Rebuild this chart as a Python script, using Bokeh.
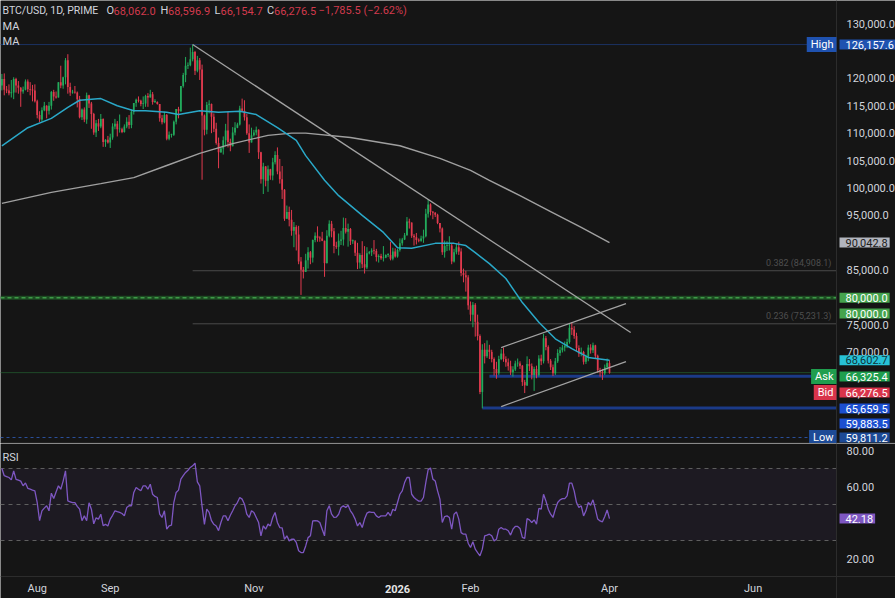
import numpy as np
import pandas as pd
from bokeh.plotting import figure
from bokeh.layouts import column
from bokeh.models import ColumnDataSource, Range1d, Label, Span, BoxAnnotation
from bokeh.embed import file_html
from bokeh.resources import INLINE

# ---------------- data (prices in thousands of USD, daily candles) ----------------
start_date = "2025-07-17"
first_open_k = 118.7

close_jul = [119.9, 117.9, 117.8, 117.3, 117.4, 119.9, 118.7, 118.3, 117.6, 117.9, 119.4, 118.0, 117.9, 117.8, 115.8]
close_aug = [113.3, 112.5, 114.2, 115.0, 114.1, 115.0, 117.5, 116.7, 116.5, 119.3, 118.7, 120.2, 123.3, 118.4, 117.4,
             117.5, 117.4, 116.2, 112.9, 114.3, 112.5, 116.9, 115.4, 113.5, 110.1, 111.8, 111.2, 112.6, 108.4, 108.8, 108.3]
close_sep = [109.2, 111.2, 111.7, 110.7, 110.7, 110.2, 111.2, 112.1, 111.5, 113.9, 115.5, 116.1, 115.9, 115.3, 115.4,
             116.8, 116.5, 117.1, 115.7, 115.7, 115.3, 112.7, 112.0, 113.3, 109.0, 109.7, 109.7, 112.1, 114.4, 114.0]
close_oct = [118.6, 120.6, 122.3, 122.4, 123.5, 124.8, 121.4, 123.3, 121.6, 113.2, 110.6, 115.2, 115.3, 113.0, 110.8,
             108.2, 106.5, 107.2, 108.7, 110.5, 108.4, 107.6, 110.1, 111.0, 111.6, 114.5, 114.1, 112.9, 110.0, 108.3, 109.6]
close_nov = [110.1, 110.6, 106.5, 101.6, 103.9, 101.3, 103.4, 102.3, 104.7, 106.0, 103.0, 101.6, 99.7, 94.4, 95.6,
             94.2, 92.2, 92.9, 91.5, 86.6, 85.1, 84.7, 86.8, 88.3, 87.3, 90.5, 91.3, 90.9, 90.8, 90.4]
close_dec = [86.3, 91.3, 93.5, 92.1, 89.4, 89.3, 90.4, 90.6, 92.7, 92.0, 92.5, 90.3, 90.3, 88.2, 86.4,
             87.8, 86.1, 85.5, 88.1, 88.3, 88.6, 88.5, 87.4, 87.6, 87.2, 87.3, 87.8, 87.8, 87.1, 88.4, 87.5]
close_jan = [88.7, 89.9, 90.6, 91.4, 93.9, 93.7, 91.3, 91.0, 90.5, 90.4, 90.8, 91.2, 95.3, 97.0, 95.6,
             95.5, 95.1, 93.6, 92.6, 88.3, 89.4, 89.5, 89.5, 86.6, 88.3, 89.2, 88.4, 84.5, 84.1, 83.7, 78.6]
close_feb = [76.9, 78.7, 75.6, 73.0, 62.8, 70.5, 69.3, 70.5, 70.1, 68.8, 67.0, 66.2, 68.8, 69.8, 68.8,
             68.2, 67.5, 66.4, 66.9, 68.0, 68.0, 67.6, 64.6, 64.0, 67.9, 67.5, 65.9, 67.0]
close_mar = [65.9, 68.9, 68.4, 72.6, 71.0, 68.5, 67.3, 66.2, 68.4, 69.9, 70.4, 70.9, 71.2, 71.9, 74.5,
             74.2, 73.0, 70.8, 69.8, 70.1, 68.3, 69.2, 70.9, 70.4, 71.3, 69.4, 66.8, 66.4, 66.2, 67.3, 68.062]
close_apr = [66.2765]

high_jul = [120.8, 120.9, 118.6, 118.9, 119.7, 120.2, 120.1, 119.5, 118.4, 118.5, 119.8, 119.8, 119.3, 118.8, 118.9]
high_aug = [116.1, 114.0, 114.7, 115.7, 115.1, 115.7, 117.7, 117.9, 117.6, 119.3, 122.3, 120.3, 123.7, 124.4, 119.2,
            117.9, 118.6, 117.6, 116.8, 114.5, 114.7, 117.4, 117.0, 115.7, 113.7, 112.4, 112.6, 113.5, 112.7, 108.9, 109.5]
high_sep = [109.9, 111.8, 112.6, 112.2, 113.4, 111.0, 111.6, 112.9, 113.3, 114.3, 115.5, 116.3, 116.7, 116.1, 116.7,
            117.0, 117.3, 117.9, 117.5, 116.2, 115.8, 115.3, 113.3, 113.9, 113.5, 110.3, 109.9, 112.3, 114.4, 114.8]
high_oct = [118.6, 121.0, 123.9, 122.9, 125.6, 126.1576, 125.0, 124.1, 123.7, 122.5, 113.4, 115.7, 116.0, 115.4, 113.6,
            111.9, 109.2, 107.5, 109.4, 111.7, 114.0, 109.0, 111.1, 112.0, 111.9, 115.0, 116.3, 116.0, 113.5, 111.6, 111.0]
high_nov = [110.6, 111.2, 110.7, 106.6, 104.6, 104.0, 104.1, 103.5, 105.5, 106.7, 107.4, 105.3, 104.0, 99.8, 96.8,
            96.6, 96.0, 93.8, 93.2, 93.1, 87.4, 85.6, 88.0, 89.2, 88.5, 90.6, 91.9, 93.0, 91.2, 92.0]
high_dec = [90.4, 92.3, 94.1, 94.0, 92.7, 90.2, 91.7, 92.2, 94.6, 94.5, 93.5, 92.7, 90.6, 90.5, 90.0,
            88.1, 90.3, 89.4, 89.2, 88.5, 89.0, 90.5, 88.9, 87.9, 88.0, 89.4, 87.9, 88.1, 90.2, 89.1, 89.0]
high_jan = [88.9, 90.8, 90.9, 91.8, 94.7, 94.4, 93.7, 91.6, 91.8, 90.8, 91.3, 92.4, 96.2, 97.9, 97.2,
            95.8, 95.6, 95.3, 93.4, 92.8, 90.4, 90.3, 91.2, 89.9, 88.9, 89.8, 90.2, 89.0, 85.3, 84.9, 84.1]
high_feb = [79.3, 79.2, 79.0, 76.9, 73.3, 71.5, 71.7, 72.2, 71.4, 70.5, 69.1, 68.3, 69.4, 70.6, 70.9,
            69.3, 68.9, 68.5, 67.5, 68.5, 68.9, 68.4, 67.7, 65.0, 69.3, 68.8, 68.0, 67.4]
high_mar = [67.6, 69.5, 69.6, 73.4, 73.0, 71.3, 68.8, 67.8, 69.0, 70.6, 71.0, 71.4, 72.0, 72.5, 75.2,
            75.5, 74.8, 73.6, 71.3, 70.9, 70.3, 69.6, 71.4, 71.5, 71.8, 71.4, 69.6, 67.2, 67.0, 67.8, 68.9]
high_apr = [68.5969]

low_jul = [117.8, 116.9, 117.3, 116.9, 116.5, 116.2, 117.4, 117.2, 114.8, 117.2, 117.8, 117.5, 116.9, 115.8, 115.6]
low_aug = [112.7, 112.0, 112.1, 114.0, 112.7, 113.4, 114.3, 115.9, 116.3, 116.5, 118.2, 118.1, 118.9, 117.2, 116.8,
           117.2, 117.2, 114.7, 112.7, 112.4, 112.0, 111.7, 114.6, 110.8, 109.7, 109.3, 110.4, 110.9, 107.5, 107.5, 108.1]
low_sep = [107.3, 108.8, 110.7, 109.4, 110.1, 110.0, 110.1, 110.9, 110.8, 110.9, 113.4, 114.8, 115.6, 114.9, 114.4,
           114.8, 114.8, 116.5, 115.2, 115.5, 115.2, 112.1, 111.6, 111.8, 108.7, 108.7, 109.2, 109.5, 111.6, 112.7]
low_oct = [113.9, 118.3, 119.3, 121.7, 122.2, 123.1, 120.6, 121.1, 119.7, 101.5, 109.6, 109.8, 113.6, 110.0, 110.2,
           107.9, 103.6, 106.4, 106.1, 107.6, 107.4, 106.7, 107.6, 109.6, 110.9, 111.4, 113.9, 112.3, 109.7, 106.4, 108.3]
low_nov = [109.4, 109.6, 105.3, 100.8, 98.9, 100.3, 99.3, 101.5, 101.4, 104.3, 102.5, 100.8, 98.0, 94.0, 94.6,
           93.0, 91.3, 89.2, 88.6, 86.1, 80.5, 83.5, 84.7, 85.3, 86.1, 86.4, 90.1, 90.2, 90.2, 90.3]
low_dec = [83.8, 86.2, 91.0, 91.0, 88.1, 88.9, 87.7, 89.6, 89.5, 91.7, 89.3, 89.6, 89.8, 87.6, 85.2,
           85.3, 85.4, 84.4, 85.2, 87.9, 87.6, 87.9, 86.6, 86.4, 86.9, 86.6, 87.2, 87.4, 86.8, 86.8, 87.3]
low_jan = [87.3, 88.4, 89.5, 90.5, 91.3, 92.6, 90.9, 89.5, 89.7, 90.1, 90.2, 90.0, 91.0, 94.6, 95.0,
           94.3, 94.7, 93.4, 91.9, 87.8, 87.3, 88.5, 88.6, 86.1, 86.4, 87.9, 87.8, 83.9, 82.8, 81.1, 77.8]
low_feb = [75.7, 74.6, 72.9, 72.2, 62.4, 59.8112, 68.0, 69.0, 68.8, 68.2, 65.8, 65.2, 65.9, 68.6, 68.3,
           67.4, 66.7, 65.9, 65.6, 66.6, 67.4, 67.0, 63.9, 62.6, 63.9, 66.6, 65.1, 63.0]
low_mar = [65.3, 65.6, 67.7, 68.0, 70.4, 68.0, 66.8, 65.7, 65.9, 68.1, 69.4, 70.0, 70.2, 70.8, 71.6,
           73.2, 72.5, 70.2, 69.2, 69.3, 67.8, 67.9, 68.4, 69.8, 69.9, 68.9, 66.3, 65.6, 65.0, 65.9, 66.9]
low_apr = [66.1547]

# moving averages (day index from start_date, value in thousands)
ma50_day = [0, 11, 21, 28, 33, 42, 49, 56, 61, 70, 75, 84, 92, 101, 108, 117, 125, 129, 137, 143, 153, 162,
            168, 174, 184, 192, 197, 201, 207, 214, 221, 228, 235, 242, 249, 258]
ma50_k = [107.7, 111.0, 112.7, 114.7, 116.0, 116.3, 115.0, 114.1, 114.1, 113.8, 113.4, 114.1, 113.8, 114.0, 113.4,
          111.0, 108.7, 105.9, 101.4, 98.6, 95.0, 91.9, 89.1, 89.0, 89.9, 89.9, 89.5, 88.2, 86.2, 83.5, 79.1,
          75.5, 72.5, 70.7, 69.1, 68.6027]
ma200_day = [0, 21, 42, 56, 70, 84, 98, 113, 123, 129, 148, 169, 186, 199, 207, 220, 233, 246, 258]
ma200_k = [97.2, 99.2, 100.8, 101.9, 104.1, 106.3, 108.1, 109.6, 110.0, 110.0, 109.2, 107.7, 105.4, 103.2,
           101.4, 98.6, 95.7, 92.8, 90.0428]

# RSI (14) daily values
rsi = [70, 66, 65.5, 65, 63.7, 68.7, 64, 63.5, 63, 60.4, 62, 59, 58.5, 58, 57.6, 51, 41, 46.5, 48, 49.3,
       46.5, 56.3, 53.3, 57, 60.4, 58.5, 63, 68.7, 52, 51.5, 51, 51, 49, 47.4, 41, 43.7, 41, 51, 47.4, 39.3,
       42.6, 41.9, 44.6, 38.3, 39, 38.1, 41.9, 44, 46.5, 46, 45.6, 45, 43.7, 48.3, 49.3, 49.3, 56.7, 59.5, 58.5, 57.6,
       60.4, 60.4, 58.5, 61.3, 55.7, 54.5, 53.9, 44.6, 42.8, 46.5, 36.3, 38.1, 38.5, 51.1, 56.7, 58, 64.1, 66, 67.8, 69,
       70.6, 71.5, 73, 62.6, 60.4, 49, 39, 47.4, 45.6, 41, 39, 38.1, 35.5, 40, 43.7, 43.7, 41, 44, 46.5, 49.3,
       51.1, 53.9, 53, 50.2, 44.6, 42.8, 46.5, 45.6, 42.8, 40, 32.6, 38.1, 36.3, 39.1, 38.1, 42.8, 45.6, 40, 37.2, 37,
       30.7, 32.6, 29.8, 30.7, 30.7, 28.9, 24.3, 23.3, 23.3, 27, 31.6, 32.6, 40.9, 41, 40.9, 40, 36.3, 32.6, 46.5, 49.3,
       44.6, 42.8, 43, 44.6, 48.3, 49.3, 48.3, 49.6, 46.5, 44.6, 41.9, 38.1, 40, 37.2, 41.9, 45.2, 45.9, 45.6, 45.6, 43.7,
       42.8, 43.7, 43.7, 43.7, 45.6, 43.7, 47.4, 46.5, 51.1, 55.7, 57.6, 62.2, 65, 65, 55.7, 53.9, 52.8, 51.9, 51.9, 53.9,
       62.2, 69.4, 70.3, 64.1, 63.1, 57.6, 53, 40, 43.3, 43.7, 42.8, 36.3, 44.6, 45.9, 41.9, 34.4, 33.5, 33.5, 28.5, 26.1,
       29.3, 25.2, 23.3, 21.5, 25.2, 32.6, 33, 33.5, 32.6, 29.8, 30.7, 36.3, 37.2, 36.3, 36.3, 35.4, 33, 36.3, 37.8, 37.8,
       36.7, 31.7, 31.1, 42.2, 41.5, 40, 41.5, 39.1, 47.8, 47.4, 55.7, 52, 47.4, 44.6, 42.8, 47.4, 51.1, 52.6, 53.3, 53.3,
       54.8, 61.9, 61.9, 57.6, 51.1, 48.3, 49.3, 43.7, 46.5, 51.1, 49.6, 52.6, 47.4, 41.9, 40.9, 40.4, 43.3, 47, 42.18]

# price levels / drawings
high_price = 126157.6
low_price = 59811.2
ma200_last = 90042.8
ma50_last = 68602.7
ask_price = 66325.4
bid_price = 66276.5
level_green = 80000.0
level_blue_1 = 65659.5
level_blue_2 = 59883.5
fib_levels = [(0.382, 84908.1), (0.236, 75231.3)]
trend_down = [("2025-10-06", 126157.6), ("2026-04-10", 73640.0)]
channel_top = [("2026-02-14", 70900.0), ("2026-04-08", 78930.0)]
channel_bot = [("2026-02-14", 60140.0), ("2026-04-08", 68350.0)]
header_ohlc = ["68,062.0", "68,596.9", "66,154.7", "66,276.5"]
header_change = "\u22121,785.5 (\u22122.62%)"
price_ticks = [70000, 75000, 85000, 95000, 100000, 105000, 110000, 115000, 120000, 130000]
rsi_ticks = [20, 60, 80]
month_ticks = ["2025-08-01", "2025-09-01", "2025-11-01", "2026-01-01", "2026-02-01", "2026-04-01", "2026-06-01"]
month_labels = ["Aug", "Sep", "Nov", "2026", "Feb", "Apr", "Jun"]

# ---------------- assemble ----------------
close_k = close_jul + close_aug + close_sep + close_oct + close_nov + close_dec + close_jan + close_feb + close_mar + close_apr
high_k = high_jul + high_aug + high_sep + high_oct + high_nov + high_dec + high_jan + high_feb + high_mar + high_apr
low_k = low_jul + low_aug + low_sep + low_oct + low_nov + low_dec + low_jan + low_feb + low_mar + low_apr
n = min(len(close_k), len(high_k), len(low_k))
dates = pd.date_range(start_date, periods=n, freq="D")
close = np.array(close_k[:n]) * 1000
open_ = np.concatenate([[first_open_k * 1000], close[:-1]])
high = np.maximum(np.array(high_k[:n]) * 1000, np.maximum(open_, close))
low = np.minimum(np.array(low_k[:n]) * 1000, np.minimum(open_, close))

BG = "#151515"
UP = "#22ab5c"
DN = "#e13a4e"
TXT = "#d1d4dc"
SEP = "#2c2c2c"
FONT = "Roboto"
DAY_MS = 86400000
px_per_day = 2.355
W = 895
PANE_W = 836          # width of the chart area, price scale to its right
x_start = pd.Timestamp(start_date) - pd.Timedelta(days=1.4 / px_per_day)
x_end = x_start + pd.Timedelta(days=W / px_per_day)
x_start_ms = x_start.value / 1e6
pane_edge_ms = x_start_ms + PANE_W / px_per_day * DAY_MS
pane_edge = pd.Timestamp(int(pane_edge_ms), unit="ms")
Y0, Y1 = 53400, 134195
H1 = 443


def day(i):
    return pd.Timestamp(start_date) + pd.Timedelta(days=int(i))


def hline(fig, y, x0, **kw):
    fig.segment(x0=[x0], x1=[pane_edge], y0=[y], y1=[y], **kw)


p1 = figure(width=W, height=H1, x_axis_type="datetime", x_axis_location=None, y_axis_location=None,
            x_range=Range1d(x_start, x_end), y_range=Range1d(Y0, Y1),
            output_backend="svg", toolbar_location=None, min_border=0,
            background_fill_color=BG, border_fill_color=BG, outline_line_color=None)
p1.grid.grid_line_color = None

# pane separators
p1.add_layout(Span(location=pane_edge_ms, dimension="height", line_color=SEP, line_width=1))
y_sep = Y0 + 0.5 * (Y1 - Y0) / H1
p1.segment(x0=[x_start], x1=[x_end], y0=[y_sep], y1=[y_sep], line_color=SEP, line_width=1)

# horizontal levels
hline(p1, high_price, x_start, line_color="#1b3262", line_width=1)
hline(p1, level_green, x_start, line_color="#1d4a22", line_width=4)
hline(p1, level_green, x_start, line_color="#3f9a48", line_width=1.5, line_dash="4 3")
hline(p1, ask_price, x_start, line_color="#1f4a28", line_width=1)
low_tag_y = Y0 + 6 * (Y1 - Y0) / H1
hline(p1, low_tag_y, x_start, line_color="#2a4f9a", line_width=1, line_dash="3 3")

for lvl, price in fib_levels:
    hline(p1, price, pd.Timestamp(trend_down[0][0]), line_color="#4a4a4a", line_width=1)
    p1.add_layout(Label(x=831, x_units="screen", y=price, y_units="data", y_offset=8,
                        text=f"{lvl} ({price:,.1f})", text_align="right", text_baseline="middle",
                        text_font=FONT, text_font_size="9px", text_color="#4e4e4e"))

hline(p1, level_blue_1, day(207), line_color="#1b3a88", line_width=3)
hline(p1, level_blue_2, day(204), line_color="#1b3a88", line_width=3)

# candles
body_top = np.maximum(open_, close)
body_bot = np.minimum(open_, close)
body_top = np.where(body_top - body_bot < 150, body_bot + 150, body_top)
src = ColumnDataSource(dict(x=dates, h=high, l=low, top=body_top, bot=body_bot,
                            col=np.where(close >= open_, UP, DN)))
p1.segment(x0="x", y0="l", x1="x", y1="h", line_color="col", line_width=1, source=src)
p1.vbar(x="x", width=0.74 * DAY_MS, top="top", bottom="bot", fill_color="col", line_color=None, source=src)

# moving averages
p1.line([day(i) for i in ma200_day], np.array(ma200_k) * 1000, line_color="#a0a0a0", line_width=1.4)
p1.line([day(i) for i in ma50_day], np.array(ma50_k) * 1000, line_color="#2aa8c8", line_width=1.5)

# drawings
for seg in (trend_down, channel_top, channel_bot):
    p1.line([pd.Timestamp(seg[0][0]), pd.Timestamp(seg[1][0])], [seg[0][1], seg[1][1]],
            line_color="#a3a3a3", line_width=1.3)


def scale_label(fig, text, y):
    fig.add_layout(Label(x=846, y=y, x_units="screen", y_units="data", text=text,
                         text_font=FONT, text_font_size="11px", text_color=TXT,
                         text_align="left", text_baseline="middle", level="overlay"))


def tag(fig, text, y, bg, fg="#ffffff", x=839, y_units="data", align="left"):
    # x is the outer edge of the tag box (left edge for value tags, right edge for name tags)
    pad = dict(left=6, right=2, top=1, bottom=1) if align == "left" else dict(left=4, right=3, top=1, bottom=1)
    fig.add_layout(Label(x=x, y=y, x_units="screen", y_units=y_units, text=text,
                         text_font=FONT, text_font_size="11px", text_color=fg,
                         text_align=align, text_baseline="middle",
                         background_fill_color=bg, background_fill_alpha=1.0,
                         padding=pad, level="overlay"))


def txt(fig, text, x, y, color=TXT, size="11px", style="normal", units="screen"):
    fig.add_layout(Label(x=x, y=y, x_units=units, y_units="screen", text=text,
                         text_font=FONT, text_font_size=size, text_color=color,
                         text_align="left" if units == "screen" else "center",
                         text_baseline="middle", text_font_style=style, level="overlay"))


for t in price_ticks:
    scale_label(p1, f"{t:,.1f}", t)

BLUE = "#1f52b0"
NAME_X = 836
tag(p1, "High", high_price, BLUE, x=NAME_X, align="right")
tag(p1, f"{high_price:,.1f}", high_price, BLUE)
tag(p1, f"{ma200_last:,.1f}", ma200_last, "#b2b5be", fg="#202020")
tag(p1, f"{level_green:,.1f}", level_green, "#45a34d")
tag(p1, f"{level_green:,.1f}", H1 - 313, "#45a34d", y_units="screen")
tag(p1, f"{ma50_last:,.1f}", ma50_last, "#27c2d6", fg="#10343a")
tag(p1, "Ask", H1 - 376, "#1f9e4e", x=NAME_X, y_units="screen", align="right")
tag(p1, f"{ask_price:,.1f}", H1 - 376, "#1f9e4e", y_units="screen")
tag(p1, "Bid", H1 - 392, "#d9344b", x=NAME_X, y_units="screen", align="right")
tag(p1, f"{bid_price:,.1f}", H1 - 392, "#d9344b", y_units="screen")
tag(p1, f"{level_blue_1:,.1f}", H1 - 408, "#1c4fd0", y_units="screen")
tag(p1, f"{level_blue_2:,.1f}", H1 - 423, "#1c4fd0", y_units="screen")
tag(p1, "Low", H1 - 437, "#1d4a96", x=NAME_X, y_units="screen", align="right")
tag(p1, f"{low_price:,.1f}", H1 - 437, "#1d4a96", y_units="screen")

# header
RED = "#d23a4d"
hy = H1 - 10
txt(p1, "BTC/USD, 1D, PRIME", 2, hy, size="10.5px")
for letter, val, xl, xv in zip("OHLC", header_ohlc, [106, 160, 214, 266.5], [113, 167.5, 220, 273.5]):
    txt(p1, letter, xl, hy)
    txt(p1, val, xv, hy, color=RED)
txt(p1, header_change, 318, hy, color=RED)
txt(p1, "MA", 2, H1 - 26)
txt(p1, "MA", 2, H1 - 41)

# ---------------- RSI pane (with the time scale row below it) ----------------
H2 = 155
R0, R1 = -2.22, 83.9
p2 = figure(width=W, height=H2, x_axis_type="datetime", x_axis_location=None, y_axis_location=None,
            x_range=p1.x_range, y_range=Range1d(R0, R1), output_backend="svg", toolbar_location=None,
            min_border=0, background_fill_color=BG, border_fill_color=BG, outline_line_color=None)
p2.grid.grid_line_color = None
p2.add_layout(BoxAnnotation(bottom=30, top=70, right=pane_edge_ms, fill_color="#7e57c2", fill_alpha=0.08,
                            line_color=None, level="underlay"))
for lv in (70, 50, 30):
    hline(p2, lv, x_start, line_color="#5f5f5f", line_width=1, line_dash="4 4")
p2.add_layout(Span(location=pane_edge_ms, dimension="height", line_color=SEP, line_width=1))
p2.add_layout(Span(location=10, dimension="width", line_color=SEP, line_width=1))
p2.line(dates[:len(rsi)], rsi[:n], line_color="#7e57c2", line_width=1.3)

for t in rsi_ticks:
    scale_label(p2, f"{t:.2f}", t)
tag(p2, f"{rsi[-1]:.2f}", rsi[-1], "#7e57c2")
txt(p2, "RSI", 2, H2 - 14)

for t, lab in zip(month_ticks, month_labels):
    txt(p2, lab, pd.Timestamp(t), 10, color="#e6e6e6" if lab == "2026" else TXT,
        style="bold" if lab == "2026" else "normal", units="data")

layout = column(p1, p2)
open("out.html", "w").write(file_html(layout, INLINE, title="BTC/USD"))
